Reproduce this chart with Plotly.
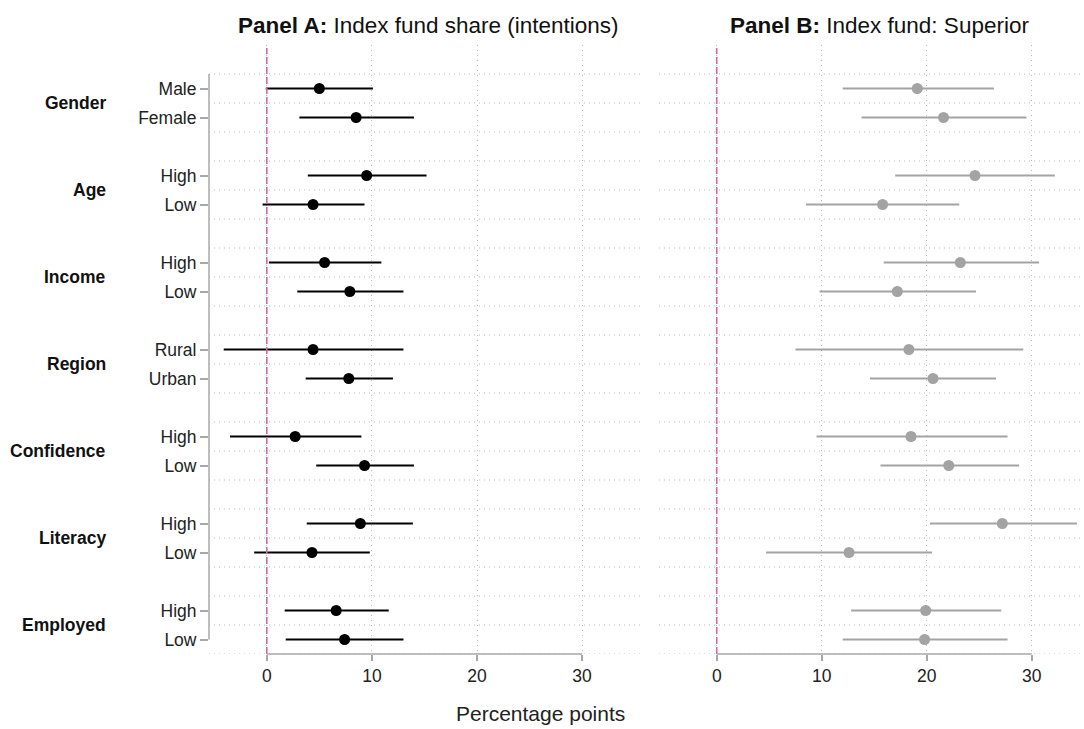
import plotly.graph_objects as go

# ---------------- data ----------------
groups = ["Gender", "Age", "Income", "Region", "Confidence", "Literacy", "Employed"]
items = [["Male", "Female"], ["High", "Low"], ["High", "Low"], ["Rural", "Urban"],
         ["High", "Low"], ["High", "Low"], ["High", "Low"]]

# Panel A: Index fund share (intentions)
a_est = [5.0, 8.5, 9.5, 4.4, 5.5, 7.9, 4.4, 7.8, 2.7, 9.3, 8.9, 4.3, 6.6, 7.4]
a_lo = [-0.1, 3.1, 3.9, -0.4, 0.2, 2.9, -4.1, 3.7, -3.5, 4.7, 3.8, -1.2, 1.7, 1.8]
a_hi = [10.1, 14.0, 15.2, 9.3, 10.9, 13.0, 13.0, 12.0, 9.0, 14.0, 13.9, 9.8, 11.6, 13.0]

# Panel B: Index fund: Superior
b_est = [19.1, 21.6, 24.6, 15.8, 23.2, 17.2, 18.3, 20.6, 18.5, 22.1, 27.2, 12.6, 19.9, 19.8]
b_lo = [12.0, 13.8, 17.0, 8.5, 15.9, 9.8, 7.5, 14.6, 9.5, 15.6, 20.3, 4.7, 12.8, 12.0]
b_hi = [26.4, 29.5, 32.2, 23.1, 30.7, 24.7, 29.2, 26.6, 27.7, 28.8, 34.3, 20.5, 27.1, 27.7]

x_ticks = [0, 10, 20, 30]
panel_titles = ["<b>Panel A:</b> Index fund share (intentions)", "<b>Panel B:</b> Index fund: Superior"]
x_title = "Percentage points"

# ---------------- layout helpers ----------------
W, H = 1084, 729
TOP, BOT = 45, 654
FONT = "Liberation Sans, Arial, Helvetica, sans-serif"
GRID = "#b9b9b9"
AXC = "#a8a8a8"
PINK = "#d8669f"

ypos, ylab = [], []
for g, its in enumerate(items):
    for i, lab in enumerate(its):
        ypos.append(3 * g + i)
        ylab.append(lab)
group_y = [3 * g + 0.5 for g in range(len(groups))]
yrange = [max(ypos) + 0.5, -1.5]

def py(p):
    return (BOT - p) / (BOT - TOP)

fig = go.Figure()

def add_panel(est, lo, hi, color, xa, ya):
    fig.add_trace(go.Scatter(
        x=est, y=ypos, mode="markers",
        marker=dict(color=color, size=11, line=dict(width=0)),
        error_x=dict(type="data", symmetric=False,
                     array=[h - e for h, e in zip(hi, est)],
                     arrayminus=[e - l for e, l in zip(est, lo)],
                     color=color, thickness=2.2, width=0),
        xaxis=xa, yaxis=ya, showlegend=False, hoverinfo="skip"))

add_panel(a_est, a_lo, a_hi, "#000000", "x", "y")
add_panel(b_est, b_lo, b_hi, "#a3a3a3", "x2", "y2")

xcommon = dict(range=[-5.5, 35.7], tickvals=x_ticks, ticks="outside", ticklen=6,
               tickcolor=AXC, tickwidth=1.5, showgrid=True, gridcolor=GRID,
               griddash="1px,4px", gridwidth=1, zeroline=False, showline=False,
               tickfont=dict(family=FONT, size=17.5, color="#222"), fixedrange=True)

fig.update_layout(
    width=W, height=H, margin=dict(l=0, r=0, t=TOP, b=H - BOT),
    paper_bgcolor="white", plot_bgcolor="white",
    xaxis=dict(domain=[209 / W, 642 / W], anchor="y", **xcommon),
    xaxis2=dict(domain=[659 / W, 1080 / W], anchor="y2",
                **{**xcommon, "range": [-5.5, 34.6]}),
    yaxis=dict(range=yrange, tickvals=ypos, ticktext=ylab, ticks="outside",
               ticklen=8, tickcolor=AXC, tickwidth=1.5, showgrid=False,
               zeroline=False, showline=False, anchor="x", fixedrange=True,
               tickfont=dict(family=FONT, size=17.5, color="#222")),
    yaxis2=dict(range=yrange, showticklabels=False, ticks="", showgrid=False,
                zeroline=False, showline=False, anchor="x2", fixedrange=True),
)

shapes = []
for xr, yr in (("x", "y"), ("x2", "y2")):
    # horizontal dotted grid lines
    for k in range(-1, int(max(ypos)) + 1):
        shapes.append(dict(type="line", xref=f"{xr} domain", yref=yr, x0=0, x1=1,
                           y0=k + 0.5, y1=k + 0.5, layer="below",
                           line=dict(color=GRID, width=1, dash="1px,4px")))
    # reference line at zero
    shapes.append(dict(type="line", xref=xr, yref=f"{yr} domain", x0=0, x1=0, y0=0, y1=0.995,
                       line=dict(color=PINK, width=1.6, dash="7px,3px")))
    # bottom axis line (0 to 30)
    shapes.append(dict(type="line", xref=xr, yref=f"{yr} domain", x0=x_ticks[0], x1=x_ticks[-1],
                       y0=0, y1=0, line=dict(color=AXC, width=1.5)))
# left y axis line
shapes.append(dict(type="line", xref="x domain", yref="y", x0=0, x1=0,
                   y0=-0.5, y1=max(ypos), line=dict(color=AXC, width=1.5)))
fig.update_layout(shapes=shapes)

ann = []
for g, yy in zip(groups, group_y):
    ann.append(dict(text=f"<b>{g}</b>", xref="paper", yref="y", x=108 / W, y=yy,
                    xanchor="right", yanchor="middle", showarrow=False,
                    font=dict(family=FONT, size=17.5, color="#111")))
for t, cx in zip(panel_titles, [428, 879]):
    ann.append(dict(text=t, xref="paper", yref="paper", x=cx / W, y=py(26),
                    xanchor="center", yanchor="middle", showarrow=False,
                    font=dict(family=FONT, size=22.5, color="#111")))
ann.append(dict(text=x_title, xref="paper", yref="paper", x=540 / W, y=py(713),
                xanchor="center", yanchor="middle", showarrow=False,
                font=dict(family=FONT, size=21, color="#222")))
fig.update_layout(annotations=ann)

fig.write_html("out.html", config={"displayModeBar": False},
               post_script="document.body.style.margin='0';document.body.style.overflow='hidden';")
